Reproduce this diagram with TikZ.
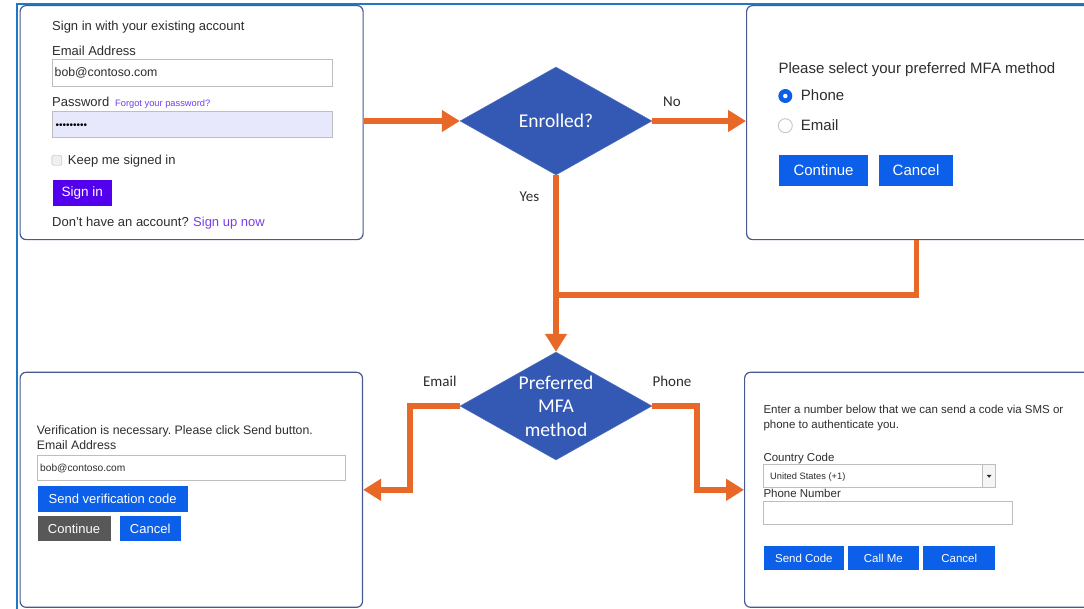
\documentclass[tikz,border=0pt]{standalone}
\usepackage{fontspec}
\setmainfont{Liberation Sans}
\newfontfamily\calibri{Carlito}
\usepackage{tikz}
\usetikzlibrary{arrows.meta}
\usetikzlibrary{positioning,shapes,calc}
\definecolor{frameBlue}{RGB}{30,120,195}
\definecolor{panelEdge}{RGB}{72,88,145}
\definecolor{decisionBlue}{RGB}{52,89,180}
\definecolor{flowOrange}{RGB}{232,104,40}
\definecolor{btnBlue}{RGB}{12,95,232}
\definecolor{btnGrey}{RGB}{88,88,88}
\definecolor{signPurple}{RGB}{82,0,238}
\definecolor{linkPurple}{RGB}{118,62,235}
\definecolor{fieldEdge}{RGB}{190,190,190}
\definecolor{fieldFill}{RGB}{232,232,252}
\definecolor{uiText}{RGB}{45,45,45}
\tikzset{panel/.style={draw=panelEdge,line width=1.2pt,rounded corners=6pt,fill=white,anchor=north west,inner sep=0},
		decision/.style={diamond,fill=decisionBlue,draw=decisionBlue!85!white,inner sep=0,
		                 minimum width=192pt,minimum height=108pt},
		decisionText/.style={text=white,inner sep=0,align=center,font=\calibri\fontsize{19.5}{23.4}\selectfont},
		flow/.style={draw=flowOrange,line width=5.5pt,-{Triangle[length=18pt,width=21pt]}},
		flowT/.style={draw=flowOrange,line width=5.5pt},
		edgeLabel/.style={text=uiText,inner sep=0,font=\calibri\fontsize{15}{18}\selectfont},
		txt/.style={anchor=base west,inner sep=0,text=uiText},
		field/.style={draw=fieldEdge,line width=0.9pt,fill=white,anchor=north west,inner sep=0},
		btn/.style={fill=btnBlue,text=white,anchor=north west,inner sep=0},
		btnG/.style={btn,fill=btnGrey},
		checkbox/.style={draw=gray!60,fill=gray!12,rounded corners=1.5pt,minimum size=10pt,anchor=north west,inner sep=0},
		radioOn/.style={circle,fill=btnBlue,minimum size=14pt,inner sep=0},
		radioDot/.style={circle,fill=white,minimum size=4.5pt,inner sep=0},
		radioOff/.style={circle,draw=gray!45,line width=0.9pt,fill=white,minimum size=14pt,inner sep=0}}
\begin{document}
\frenchspacing
\begin{tikzpicture}[x=1pt,y=-1pt]
\useasboundingbox (0,0) rectangle (1084,608);
\fill[white] (0,0) rectangle (1084,608);
\draw[frameBlue,line width=2pt] (17.3,700) -- (17.3,4) -- (1100,4);

% sign in page
\node[panel,minimum width=343pt,minimum height=234pt] (signin) at (19.5,5) {};
\begin{scope}[font=\fontsize{13}{15}\selectfont]
\node[txt] (signinTitle) at (52,30.5) {Sign in with your existing account};
\node[txt] (emailLbl) at (52,55) {Email Address};
\node[field,minimum width=280pt,minimum height=26.7pt] (emailField) at (51.7,59.3) {};
\node[txt,font=\fontsize{12.3}{14}\selectfont] (emailVal) at (54.5,76.5) {bob@contoso.com};
\node[txt] (pwdLbl) at (52,106) {Password};
\node[txt,text=linkPurple,font=\fontsize{9.3}{11}\selectfont] (forgotLink) at (115,106) {Forgot your password?};
\node[field,fill=fieldFill,minimum width=280pt,minimum height=26.7pt] (pwdField) at (51.7,110.7) {};
\node[txt,text=black,font=\fontsize{10}{12}\selectfont] (pwdDots) at (55.3,128) {•••••••••};
\node[checkbox] (keepBox) at (51.7,155) {};
\node[txt] (keepLbl) at (67.7,164) {Keep me signed in};
\node[btn,fill=signPurple,minimum width=59.4pt,minimum height=26.7pt,font=\fontsize{13.5}{15}\selectfont] (signinBtn) at (52.3,179.3) {Sign in};
\node[txt] (noAccount) at (52,226.7) {Don't have an account?};
\node[txt,text=linkPurple] (signupLink) at ([xshift=4pt]noAccount.base east) {Sign up now};
\end{scope}

% method selection page
\node[panel,minimum width=350pt,minimum height=234pt] (select) at (746,5) {};
\begin{scope}[font=\fontsize{15}{18}\selectfont]
\node[txt] (selectTitle) at (778.3,73.3) {Please select your preferred MFA method};
\node[radioOn] (radioPhone) at (785.3,96) {};
\node[radioDot] (radioPhoneDot) at (radioPhone) {};
\node[txt] (phoneOpt) at (800.7,100.5) {Phone};
\node[radioOff] (radioEmail) at (785.3,125.7) {};
\node[txt] (emailOpt) at (800.7,130.3) {Email};
\node[btn,minimum width=88.7pt,minimum height=31pt] (continueBtn) at (779,154.3) {Continue};
\node[btn,minimum width=73.7pt,minimum height=31pt] (cancelBtn) at (879,154.3) {Cancel};
\end{scope}

% email verification page
\node[panel,minimum width=342.4pt,minimum height=235pt] (verify) at (19.5,371.7) {};
\begin{scope}[font=\fontsize{12.3}{14.5}\selectfont]
\node[txt] (verifyMsg) at (36.7,434) {Verification is necessary. Please click Send button.};
\node[txt] (verifyLbl) at (36.7,449.3) {Email Address};
\node[field,minimum width=308.3pt,minimum height=25pt] (verifyField) at (36.7,455) {};
\node[txt,font=\fontsize{10.2}{12}\selectfont] (verifyVal) at (40,471) {bob@contoso.com};
\node[btn,minimum width=150.4pt,minimum height=25.7pt,font=\fontsize{13}{15}\selectfont] (sendBtn) at (37.3,486) {Send verification code};
\node[btnG,minimum width=73pt,minimum height=25.7pt,font=\fontsize{13}{15}\selectfont] (verifyContinue) at (37.3,515.3) {Continue};
\node[btn,minimum width=60.6pt,minimum height=25.7pt,font=\fontsize{13}{15}\selectfont] (verifyCancel) at (119.7,515.3) {Cancel};
\end{scope}

% phone verification page
\node[panel,minimum width=352pt,minimum height=235pt] (phoneBox) at (744,371.7) {};
\begin{scope}[font=\fontsize{11.5}{14}\selectfont]
\node[txt] (enterMsgA) at (763.3,413.3) {Enter a number below that we can send a code via SMS or};
\node[txt] (enterMsgB) at (763.3,428.3) {phone to authenticate you.};
\node[txt] (countryLbl) at (763.3,461.7) {Country Code};
\node[field,minimum width=231.7pt,minimum height=22.7pt] (countryField) at (763.3,464) {};
\node[txt,font=\fontsize{9.3}{11}\selectfont] (countryVal) at (770,479) {United States (+1)};
\node[field,fill=gray!8,anchor=north east,minimum width=12.7pt,minimum height=22.7pt] (countryDrop) at (countryField.north east) {};
\fill[uiText] ($(countryDrop.center)+(-2.5,-1)$) -- ++(5,0) -- ++(-2.5,3) -- cycle;
\node[txt] (numberLbl) at (763.3,497.3) {Phone Number};
\node[field,minimum width=248.4pt,minimum height=23.6pt] (numberField) at (763.3,500.7) {};
\node[btn,minimum width=79.3pt,minimum height=24pt] (sendCodeBtn) at (764,546) {Send Code};
\node[btn,minimum width=71.7pt,minimum height=24pt] (callBtn) at (847.3,546) {Call Me};
\node[btn,minimum width=72pt,minimum height=24pt] (phoneCancel) at (923,546) {Cancel};
\end{scope}

% decisions
\node[decision] (enrolled) at (556,121) {};
\node[decisionText] (enrolledText) at (enrolled) {Enrolled?};
\node[decision] (preferred) at (556,406) {};
\node[decisionText] (preferredText) at (preferred) {Preferred\\MFA\\method};
\coordinate (merge) at (enrolled.south |- 0,295);

% flow
\draw[flow] (signin.east |- enrolled.west) -- (enrolled.west);
\draw[flow] (enrolled.east) -- node[edgeLabel,above=12pt,pos=0.21] (noLbl) {No} (select.west |- enrolled.east);
\draw[flow] (enrolled.south) -- node[edgeLabel,left=14pt,pos=0.12] (yesLbl) {Yes} (preferred.north);
\draw[flowT] ([xshift=-5pt]select.south) |- (merge);
\draw[flow] (preferred.west) -- node[edgeLabel,above=17pt,pos=0.4] (emailWay) {Email} ++(-50,0) |- (verify.east);
\draw[flow] (preferred.east) -- node[edgeLabel,above=17pt,pos=0.44] (phoneWay) {Phone} ++(45,0) |- (phoneBox.west);
\end{tikzpicture}
\end{document}
